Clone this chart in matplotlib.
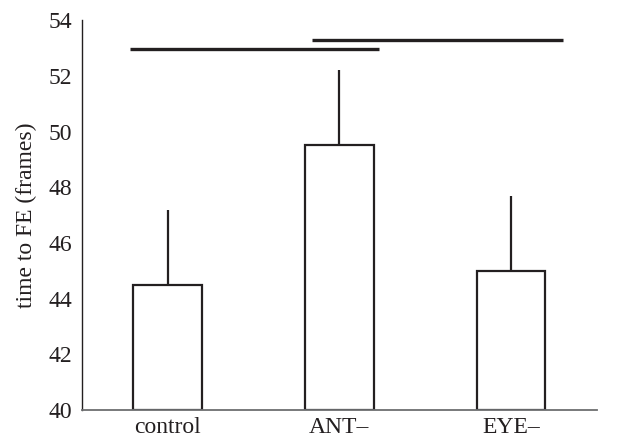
import matplotlib.pyplot as plt
import numpy as np

plt.rcParams['font.family'] = ['Liberation Serif', 'DejaVu Serif']

grupos = ["control", "ANT–", "EYE–"]
medias = [44.5, 49.5, 45.0]
errores = [2.7, 2.7, 2.7]
# lineas de significancia: (inicio, fin, altura)
sig_inicio = [-0.22, 0.84]
sig_fin = [1.23, 2.30]
sig_altura = [52.95, 53.3]

fig = plt.figure(figsize=(6.25, 4.43), dpi=100)
ax = fig.add_axes([0.131, 0.0745, 0.824, 0.88])

x = np.arange(len(grupos))
ax.bar(x, np.array(medias) - 40, bottom=40, width=0.4, color="white",
       edgecolor="#231f20", linewidth=1.6, zorder=2)
ax.errorbar(x, medias, yerr=[np.zeros(len(x)), errores], fmt="none",
            ecolor="#231f20", elinewidth=1.6, capsize=0, zorder=1)

for a, b, h in zip(sig_inicio, sig_fin, sig_altura):
    ax.plot([a, b], [h, h], color="#231f20", linewidth=2.4, solid_capstyle="butt")

ax.set_xlim(-0.5, 2.5)
ax.set_ylim(40, 54)
ax.set_yticks(np.arange(40, 55, 2))
ax.set_xticks(x)
ax.set_xticklabels(grupos)
ax.tick_params(length=0, labelsize=17, labelcolor="#231f20")
ax.tick_params(axis="y", pad=7)
ax.tick_params(axis="x", pad=5)
ax.set_ylabel("time to FE (frames)", fontsize=17, color="#231f20", labelpad=8)

ax.spines["top"].set_visible(False)
ax.spines["right"].set_visible(False)
ax.spines["left"].set_color("#231f20")
ax.spines["bottom"].set_color("#6d6e70")
ax.spines["left"].set_linewidth(1.0)
ax.spines["bottom"].set_linewidth(1.3)

plt.savefig("out.png", dpi=100)
